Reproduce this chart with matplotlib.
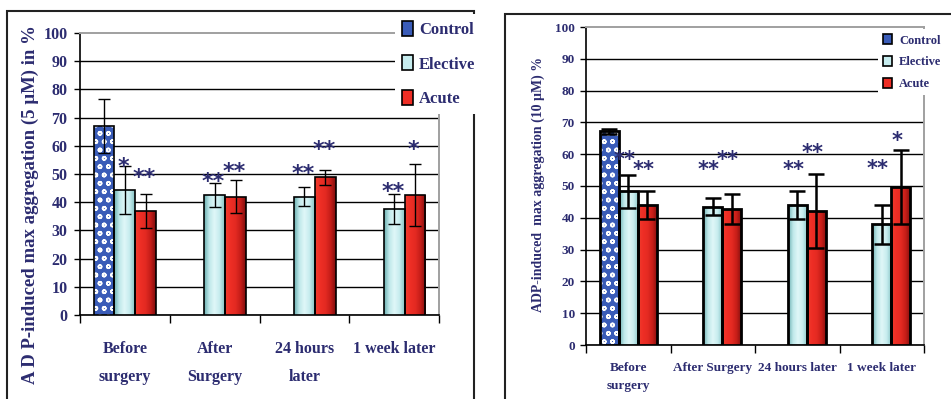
import numpy as np
import matplotlib
matplotlib.use('Agg')
import matplotlib.pyplot as plt
from matplotlib.patches import Rectangle
from matplotlib.colors import LinearSegmentedColormap

# ADP 5 uM panel
labels_5 = ['Before\nsurgery', 'After\nSurgery', '24 hours\nlater', '1 week later']
control_5 = [67.0]
control_5_err = [9.5]
elective_5 = [44.2, 42.6, 42.0, 37.5]
elective_5_err = [8.5, 4.3, 3.4, 5.4]
acute_5 = [36.9, 42.0, 48.8, 42.6]
acute_5_err = [6.0, 5.7, 2.6, 11.0]
elective_5_stars = ['*', '**', '**', '**']
elective_5_star_y = [55.0, 49.5, 52.4, 46.2]
acute_5_stars = ['**', '**', '**', '*']
acute_5_star_y = [51.2, 53.0, 60.8, 60.8]

# ADP 10 uM panel
labels_10 = ['Before\nsurgery', 'After Surgery', '24 hours later', '1 week later']
control_10 = [67.2]
control_10_err = [0.7]
elective_10 = [48.3, 43.5, 44.1, 37.9]
elective_10_err = [5.3, 2.7, 4.4, 6.2]
acute_10 = [44.1, 42.7, 42.1, 49.6]
acute_10_err = [4.4, 4.8, 11.6, 11.6]
elective_10_stars = ['**', '**', '**', '**']
elective_10_star_y = [60.2, 56.8, 56.8, 57.4]
acute_10_stars = ['**', '**', '**', '*']
acute_10_star_y = [56.8, 60.2, 62.3, 66.2]

series_names = ['Control', 'Elective', 'Acute']

navy = '#2c2c70'
ctrl_blue = '#3a5cb8'
elective_cols = ['#6aafb0', '#bfe8ea', '#e0f7f8', '#c6ecee', '#86c3c4']
acute_cols = ['#f03c2e', '#ee2e25', '#e42a22', '#c41d18', '#7e0e0e']

plt.rcParams['font.family'] = 'Liberation Serif'
plt.rcParams['hatch.linewidth'] = 1.1

W, H = 951, 399
fig = plt.figure(figsize=(W / 100, H / 100), dpi=100)


def shade(ax, bars, cols):
    cmap = LinearSegmentedColormap.from_list('g', cols)
    grad = np.linspace(0, 1, 64).reshape(1, -1)
    for b in bars:
        x0, y0 = b.get_xy()
        im = ax.imshow(grad, cmap=cmap, extent=[x0, x0 + b.get_width(), y0, y0 + b.get_height()],
                       aspect='auto', interpolation='bilinear', zorder=3)
        im.set_clip_path(b)


def draw_panel(ax, labels, ctrl, ctrl_err, elec, elec_err, acute, acute_err,
               e_stars, e_star_y, a_stars, a_star_y, width, edge_lw, err_lw, capsize,
               star_fs, tick_fs, xpad, ypad, linespacing, star_dx):
    x = np.arange(len(labels))
    cx = x[:len(ctrl)] - width
    ax.bar(cx, ctrl, width, color=ctrl_blue, edgecolor='white', hatch='oo', lw=0, zorder=3)
    ax.bar(cx, ctrl, width, facecolor='none', edgecolor='black', lw=edge_lw, zorder=3.5)
    be = ax.bar(x, elec, width, facecolor='none', edgecolor='black', lw=edge_lw, zorder=3.5)
    ba = ax.bar(x + width, acute, width, facecolor='none', edgecolor='black', lw=edge_lw, zorder=3.5)
    shade(ax, be, elective_cols)
    shade(ax, ba, acute_cols)
    for xs, ys, es in [(cx, ctrl, ctrl_err), (x, elec, elec_err), (x + width, acute, acute_err)]:
        ax.errorbar(xs, ys, yerr=es, fmt='none', ecolor='black', elinewidth=err_lw,
                    capsize=capsize, capthick=err_lw, zorder=4)
    for xs, stars, sy in [(x, e_stars, e_star_y), (x + width, a_stars, a_star_y)]:
        for xi, s, yy in zip(xs, stars, sy):
            ax.annotate(s, (xi, yy), xytext=(star_dx, -0.58 * star_fs), textcoords='offset points',
                        ha='center', va='baseline', fontsize=star_fs, fontweight='bold',
                        color=navy, family='DejaVu Sans', zorder=5)

    ax.set_xlim(-0.5, len(labels) - 0.5)
    ax.set_ylim(0, 100)
    ax.set_yticks(range(0, 101, 10))
    ax.set_xticks(x)
    ax.set_xticklabels(labels)
    ax.set_xticks(np.arange(-0.5, len(labels), 1), minor=True)
    ax.tick_params(axis='x', which='major', length=0, pad=xpad)
    ax.tick_params(axis='x', which='minor', length=6, width=1, direction='out')
    ax.tick_params(axis='y', length=4, width=1, pad=ypad)
    for t in ax.get_xticklabels() + ax.get_yticklabels():
        t.set_fontsize(tick_fs)
        t.set_fontweight('bold')
        t.set_color(navy)
    for t in ax.get_xticklabels():
        t.set_linespacing(linespacing)
    ax.set_axisbelow(True)
    ax.yaxis.grid(True, color='black', lw=1)
    ax.get_ygridlines()[-1].set_visible(False)
    for s in ['left', 'bottom']:
        ax.spines[s].set_color('black')
        ax.spines[s].set_linewidth(1.2)
    for s in ['top', 'right']:
        ax.spines[s].set_color('#a0a0a0')
        ax.spines[s].set_linewidth(1.4)


# left panel
ax1 = fig.add_axes([80 / W, 1 - 315 / H, (439 - 80) / W, (315 - 33) / H])
draw_panel(ax1, labels_5, control_5, control_5_err, elective_5, elective_5_err, acute_5, acute_5_err,
           elective_5_stars, elective_5_star_y, acute_5_stars, acute_5_star_y,
           width=0.233, edge_lw=1.2, err_lw=1.0, capsize=4.5, star_fs=16, tick_fs=11.5,
           xpad=19, ypad=5, linespacing=2.0, star_dx=-1)
fig.text(30 / W, 1 - 205 / H, 'A D P-induced max aggregation (5 \u00b5M) in %', rotation=90,
         ha='center', va='center', fontsize=13.5, fontweight='bold', color=navy)

# right panel
ax2 = fig.add_axes([586 / W, 1 - 345 / H, (924 - 586) / W, (345 - 27) / H])
draw_panel(ax2, labels_10, control_10, control_10_err, elective_10, elective_10_err, acute_10, acute_10_err,
           elective_10_stars, elective_10_star_y, acute_10_stars, acute_10_star_y,
           width=0.225, edge_lw=2.0, err_lw=1.8, capsize=5.5, star_fs=15, tick_fs=9.5,
           xpad=12, ypad=4, linespacing=1.7, star_dx=-3)
fig.text(538 / W, 1 - 184 / H, 'ADP-induced  max aggregation (10 \u00b5M) %', rotation=90,
         ha='center', va='center', fontsize=10, fontweight='bold', color=navy)

handles = [Rectangle((0, 0), 1, 1, facecolor=ctrl_blue, edgecolor='black', lw=1.2),
           Rectangle((0, 0), 1, 1, facecolor='#c6ecee', edgecolor='black', lw=1.2),
           Rectangle((0, 0), 1, 1, facecolor='#ee2e25', edgecolor='black', lw=1.2)]

leg1 = fig.legend(handles, series_names, loc='upper left', bbox_to_anchor=(395 / W, 1 - 14 / H),
                  frameon=True, facecolor='white', edgecolor='none', framealpha=1, fancybox=False,
                  borderaxespad=0, borderpad=0.4, handlelength=0.7, handleheight=1.0,
                  handletextpad=0.35, labelspacing=1.05,
                  prop={'family': 'Liberation Serif', 'weight': 'bold', 'size': 12})
for t in leg1.get_texts():
    t.set_color(navy)

leg2 = fig.legend(handles, series_names, loc='upper left', bbox_to_anchor=(878 / W, 1 - 29 / H),
                  frameon=True, facecolor='white', edgecolor='none', framealpha=1, fancybox=False,
                  borderaxespad=0, borderpad=0.4, handlelength=0.7, handleheight=0.9,
                  handletextpad=0.6, labelspacing=0.75,
                  prop={'family': 'Liberation Serif', 'weight': 'bold', 'size': 9})
for t in leg2.get_texts():
    t.set_color(navy)

# outer frames around each panel
fig.add_artist(Rectangle((7 / W, -0.05), (474 - 7) / W, 1.05 - 11 / H, transform=fig.transFigure,
                         fill=False, edgecolor='#222222', lw=1.5))
fig.add_artist(Rectangle((505 / W, -0.05), 0.6, 1.05 - 14 / H, transform=fig.transFigure,
                         fill=False, edgecolor='#222222', lw=1.5))

fig.savefig('out.png', dpi=100)
